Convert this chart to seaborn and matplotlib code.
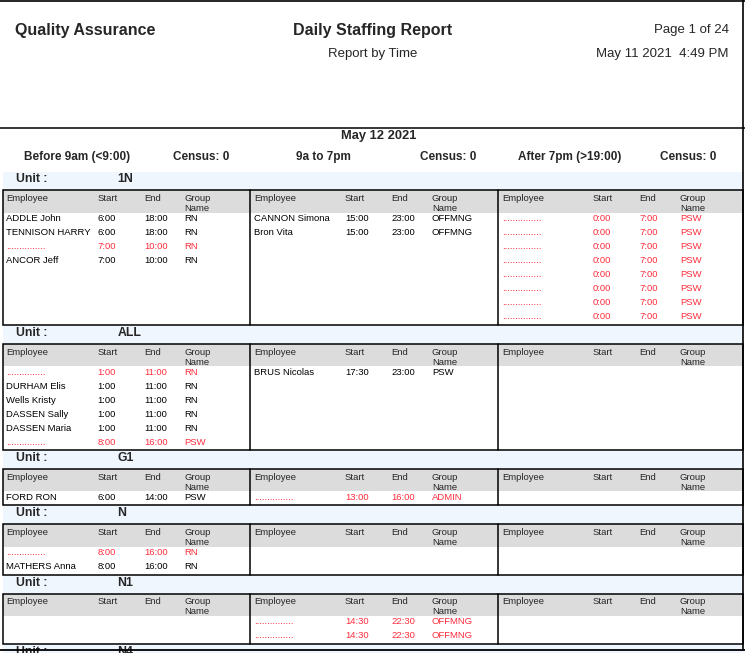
import matplotlib
matplotlib.use("Agg")
import matplotlib.pyplot as plt
from matplotlib.patches import Rectangle
import seaborn as sns

sns.set_theme(style="white")
plt.rcParams["font.family"] = ["Liberation Sans", "DejaVu Sans"]

FACILITY = "Quality Assurance"
TITLE = "Daily Staffing Report"
SUBTITLE = "Report by Time"
PAGE = "Page 1 of 24"
PRINTED = "May 11 2021  4:49 PM"
REPORT_DATE = "May 12 2021"
SHIFTS = ["Before 9am (<9:00)", "9a to 7pm", "After 7pm (>19:00)"]
CENSUS = [0, 0, 0]
COLUMNS = ["Employee", "Start", "End", "Group"]

VACANT = ""  # open shift -> printed in red with a dotted name

UNITS = ["1N", "ALL", "G1", "N", "N1", "N4"]

unit_1n = [
    [("ADDLE John", "6:00", "18:00", "RN"),
     ("TENNISON HARRY", "6:00", "18:00", "RN"),
     (VACANT, "7:00", "10:00", "RN"),
     ("ANCOR Jeff", "7:00", "10:00", "RN")],
    [("CANNON Simona", "15:00", "23:00", "OFFMNG"),
     ("Bron Vita", "15:00", "23:00", "OFFMNG")],
    [(VACANT, "0:00", "7:00", "PSW"),
     (VACANT, "0:00", "7:00", "PSW"),
     (VACANT, "0:00", "7:00", "PSW"),
     (VACANT, "0:00", "7:00", "PSW"),
     (VACANT, "0:00", "7:00", "PSW"),
     (VACANT, "0:00", "7:00", "PSW"),
     (VACANT, "0:00", "7:00", "PSW"),
     (VACANT, "0:00", "7:00", "PSW")],
]
unit_all = [
    [(VACANT, "1:00", "11:00", "RN"),
     ("DURHAM Elis", "1:00", "11:00", "RN"),
     ("Wells Kristy", "1:00", "11:00", "RN"),
     ("DASSEN Sally", "1:00", "11:00", "RN"),
     ("DASSEN Maria", "1:00", "11:00", "RN"),
     (VACANT, "8:00", "16:00", "PSW")],
    [("BRUS Nicolas", "17:30", "23:00", "PSW")],
    [],
]
unit_g1 = [
    [("FORD RON", "6:00", "14:00", "PSW")],
    [(VACANT, "13:00", "16:00", "ADMIN")],
    [],
]
unit_n = [
    [(VACANT, "8:00", "16:00", "RN"),
     ("MATHERS Anna", "8:00", "16:00", "RN")],
    [],
    [],
]
unit_n1 = [
    [],
    [(VACANT, "14:30", "22:30", "OFFMNG"),
     (VACANT, "14:30", "22:30", "OFFMNG")],
    [],
]
unit_n4 = [[], [], []]

UNIT_ROWS = [unit_1n, unit_all, unit_g1, unit_n, unit_n1, unit_n4]

# layout (pixels, y grows downward)
W, H = 745, 653
BOX_L, BOX_R = 2.5, 743
PANEL_X = [2.5, 250, 498]
COL_OFF = [4, 95, 141.5, 182]
BAND_H = 18.8
HEAD_H = 22.5
ROW_H = 14.0
PAGE_BOTTOM = 649.5
RED = "#ff2d3c"
BAND = "#eff6fe"
GREY = "#dcdcdc"
CELL_FS = 6.8

fig = plt.figure(figsize=(W / 100, H / 100), dpi=100)
ax = fig.add_axes([0, 0, 1, 1])
ax.set_xlim(0, W)
ax.set_ylim(H, 0)
ax.axis("off")

# page header
ax.text(15, 30, FACILITY, fontsize=11.5, fontweight="bold", va="center")
ax.text(373, 30, TITLE, fontsize=11.5, fontweight="bold", va="center", ha="center")
ax.text(373, 54, SUBTITLE, fontsize=9.5, va="center", ha="center")
ax.text(729, 30, PAGE, fontsize=9.5, va="center", ha="right")
ax.text(729, 54, PRINTED, fontsize=9.5, va="center", ha="right")
ax.plot([0, W], [0.6, 0.6], color="black", lw=1.2)
ax.plot([742.8, 742.8], [0, PAGE_BOTTOM], color="black", lw=1.2)
ax.plot([0, W], [127.5, 127.5], color="black", lw=1.1)

ax.text(379, 136, REPORT_DATE, fontsize=9.3, fontweight="bold", va="center", ha="center")
shift_x = [77, 323, 570]
census_x = [201, 448, 688]
for sx, cx, name, cnt in zip(shift_x, census_x, SHIFTS, CENSUS):
    ax.text(sx, 157, name, fontsize=8.5, fontweight="bold", va="center", ha="center")
    ax.text(cx, 157, f"Census: {cnt}", fontsize=8.5, fontweight="bold",
            va="center", ha="center")

# the page ends part way through the last unit band
page_clip = Rectangle((0, 0), W, PAGE_BOTTOM, transform=ax.transData)

y = 171.5
for unit, shifts in zip(UNITS, UNIT_ROWS):
    # unit band
    ax.add_patch(Rectangle((BOX_L, y), BOX_R - BOX_L, BAND_H, color=BAND, lw=0, zorder=0,
                           clip_path=page_clip))
    for tx, label in ((15.5, "Unit :"), (117.5, unit)):
        t = ax.text(tx, y + 11, label, fontsize=8.8, fontweight="bold", va="baseline")
        t.set_clip_path(page_clip)
    top = y + BAND_H
    if top >= PAGE_BOTTOM:
        break
    n_rows = max(1, max(len(s) for s in shifts))
    head_bottom = top + HEAD_H
    bottom = head_bottom + n_rows * ROW_H

    for p, x0 in enumerate(PANEL_X):
        x1 = PANEL_X[p + 1] if p + 1 < len(PANEL_X) else BOX_R
        ax.add_patch(Rectangle((x0, top), x1 - x0, HEAD_H, color=GREY, lw=0, zorder=1))
        for off, col in zip(COL_OFF, COLUMNS):
            ax.text(x0 + off, top + 11, col, fontsize=CELL_FS, va="baseline", zorder=3)
        ax.text(x0 + COL_OFF[3], top + 21, "Name", fontsize=CELL_FS, va="baseline", zorder=3)

        for i, row in enumerate(shifts[p]):
            ry = head_bottom + 8.5 + i * ROW_H
            vacant = row[0] == VACANT
            color = RED if vacant else "black"
            name = "..............." if vacant else row[0]
            for off, val in zip(COL_OFF, (name,) + row[1:]):
                ax.text(x0 + off, ry, val, fontsize=CELL_FS, va="baseline",
                        color=color, zorder=3)

    ax.add_patch(Rectangle((BOX_L, top), BOX_R - BOX_L, bottom - top, fill=False,
                           edgecolor="black", lw=1.1, zorder=4))
    for x0 in PANEL_X[1:]:
        ax.plot([x0, x0], [top, bottom], color="black", lw=1.1, zorder=4)
    y = bottom

ax.plot([0, W], [PAGE_BOTTOM, PAGE_BOTTOM], color="black", lw=1.3, zorder=11)

fig.savefig("out.png", dpi=100)
